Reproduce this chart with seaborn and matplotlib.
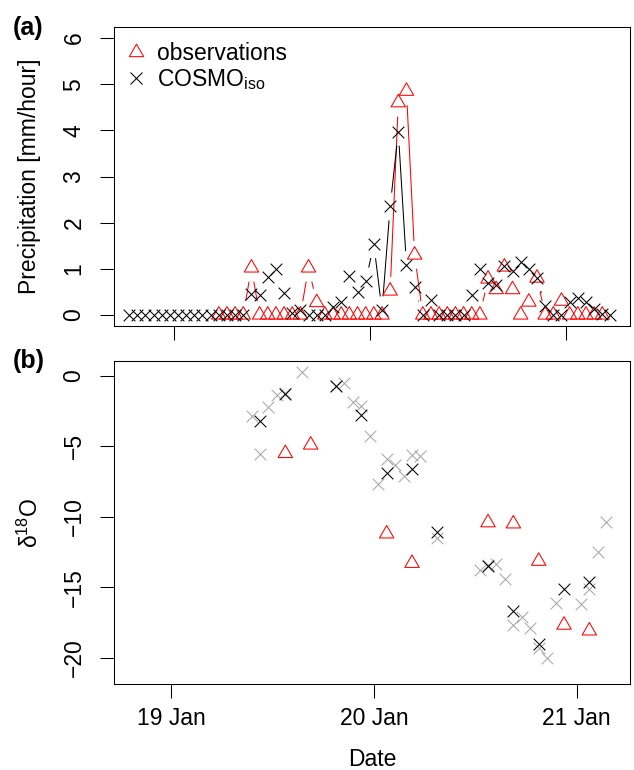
import numpy as np
import matplotlib
matplotlib.use("Agg")
import matplotlib.pyplot as plt
from matplotlib.lines import Line2D
from matplotlib.path import Path
from matplotlib.collections import LineCollection
import seaborn as sns

sns.set_theme(style="white")
plt.rcParams["font.family"] = ["Liberation Sans", "DejaVu Sans"]
plt.rcParams["mathtext.fontset"] = "custom"
plt.rcParams["mathtext.rm"] = "Liberation Sans"
plt.rcParams["mathtext.default"] = "regular"
plt.rcParams["text.color"] = "black"

nan = np.nan

# Hourly time axis: 18 Jan 18:30 onwards, as fractional day of January
hour = np.arange(60)
time_day = 18 + (18.5 + hour) / 24

# Precipitation [mm/hour]
obs_precip = [nan] * 11 + [
    0, 0, 0, 0, 1.02, 0, 0, 0, 0, 0, 0, 1.02, 0.27,
    0, 0, 0, 0, 0, 0, 0, 0, 0.52, 4.60, 4.85, 1.30,
    0, 0, 0, 0, 0, 0, 0, 0, 0.78, 0.55, 1.04, 0.55,
    0, 0.28, 0.80, 0, 0, 0.30, 0, 0, 0, 0, 0,
] + [nan]
cosmo_precip = [
    0, 0, 0, 0, 0, 0, 0, 0, 0, 0, 0, 0, 0, 0, 0,
    0.45, 0.43, 0.83, 1.00, 0.48, 0.04, 0.10, 0.00, 0.00, 0.00,
    0.18, 0.27, 0.85, 0.50, 0.73, 1.53, 0.10, 2.35, 3.97, 1.08,
    0.60, 0.00, 0.33, 0.00, 0.00, 0.00, 0.00, 0.43, 0.99, 0.70,
    0.65, 1.06, 0.95, 1.14, 1.00, 0.81, 0.19, 0.00, 0.00, 0.27,
    0.37, 0.27, 0.13, 0.02, 0.00,
]

# delta 18O: hourly model values (grey), model at sampling times (black), observations (red)
iso_hourly_hour = [15, 16, 17, 18, 19, 21, 25, 26, 27, 28, 29, 30, 31, 32, 33, 34,
                   35, 37, 42, 43, 44, 45, 46, 47, 48, 49, 50, 51, 54, 55, 56, 57]
iso_hourly = [-2.85, -5.55, -2.18, -1.35, -1.25, 0.24, -0.75, -0.52, -1.83, -2.14,
              -4.27, -7.69, -5.91, -6.34, -7.12, -5.62, -5.69, -11.48, -13.80, -13.40,
              -13.33, -14.40, -17.65, -17.13, -17.90, -19.27, -19.98, -16.10, -16.18,
              -15.10, -12.50, -10.37]
iso_model_hour = [16, 19, 25, 28, 31, 34, 37, 43, 46, 49, 52, 55]
iso_model = [-3.20, -1.30, -0.71, -2.78, -6.86, -6.64, -11.08, -13.45, -16.65,
             -18.98, -15.14, -14.64]
iso_obs_hour = [19, 22, 31, 34, 43, 46, 49, 52, 55]
iso_obs = [-5.50, -4.90, -11.20, -13.29, -10.41, -10.49, -13.14, -17.67, -18.08]

day_ticks = [19, 20, 21]
day_labels = ["19 Jan", "20 Jan", "21 Jan"]

FS = 16.5
W, H = 634, 770
fig = plt.figure(figsize=(W / 100, H / 100), dpi=100)


def axes_px(left, top, right, bottom):
    return fig.add_axes([left / W, 1 - bottom / H, (right - left) / W, (bottom - top) / H])


ax_a = axes_px(114, 27, 630, 326)
ax_b = axes_px(114, 361, 630, 684)

TRI = Path([(0, 1), (-0.866, -0.5), (0.866, -0.5), (0, 1)],
           [Path.MOVETO, Path.LINETO, Path.LINETO, Path.CLOSEPOLY])
TRI_MS = 12.0
X_MS = 8.4
LW = 0.75


def hours_to_day(h):
    return 18 + (18.5 + np.asarray(h, dtype=float)) / 24


def style_axes(ax, xlim, ylim, yticks, show_xlabels):
    ax.set_xlim(*xlim)
    ax.set_ylim(*ylim)
    ax.set_xticks(day_ticks)
    ax.set_xticklabels(day_labels if show_xlabels else [])
    ax.set_yticks(yticks)
    ax.set_yticklabels([str(v).replace("-", "\u2212") for v in yticks])
    for sp in ax.spines.values():
        sp.set_color("black")
        sp.set_linewidth(LW)
        sp.set_visible(True)
    ax.tick_params(axis="both", direction="out", length=10, width=LW, color="black",
                   labelsize=FS, labelcolor="black", bottom=True, left=True)
    ax.tick_params(axis="x", pad=6.5)
    ax.tick_params(axis="y", pad=10.5)
    for lbl in ax.get_yticklabels():
        lbl.set_rotation(90)
        lbl.set_va("center")
        lbl.set_ha("right")
    ax.set_xlabel("")
    ax.set_ylabel("")
    ax.grid(False)


def gapped_lines(ax, x, y, color, gap_px=14):
    """Connect consecutive points, leaving a gap around each point."""
    pts = ax.transData.transform(np.column_stack([np.asarray(x, float), np.asarray(y, float)]))
    segs = []
    for p, q in zip(pts[:-1], pts[1:]):
        if not (np.all(np.isfinite(p)) and np.all(np.isfinite(q))):
            continue
        d = np.hypot(*(q - p))
        if d == 0:
            continue
        f = gap_px / d
        if f < 0.5:
            segs.append(np.array([p + f * (q - p), q - f * (q - p)]))
    inv = ax.transData.inverted()
    segs = [inv.transform(s) for s in segs]
    ax.add_collection(LineCollection(segs, colors=color, linewidths=LW, zorder=2))


# ---- (a) precipitation ----
style_axes(ax_a, (18.694, 21.329), (-0.24, 6.24), [0, 1, 2, 3, 4, 5, 6], False)
gapped_lines(ax_a, time_day, obs_precip, "red")
sns.scatterplot(x=time_day, y=obs_precip, ax=ax_a, marker=TRI, s=TRI_MS ** 2,
                facecolor="none", edgecolor="red", linewidth=LW, legend=False, zorder=3)
gapped_lines(ax_a, time_day, cosmo_precip, "black")
sns.scatterplot(x=time_day, y=cosmo_precip, ax=ax_a, marker="x", s=X_MS ** 2,
                color="black", linewidth=LW, legend=False, zorder=4)

handles = [
    Line2D([], [], ls="none", marker=TRI, ms=TRI_MS, mfc="none", mec="red", mew=LW),
    Line2D([], [], ls="none", marker="x", ms=X_MS, color="black", mew=LW),
]
ax_a.legend(handles, ["observations", r"COSMO$_{iso}$"], loc="upper left",
            bbox_to_anchor=(10.5 / 516, 1 - 15 / 299), frameon=False, fontsize=FS,
            handlelength=1.0, handletextpad=0.42, borderpad=0, borderaxespad=0,
            labelspacing=0.1, labelcolor="black")

# ---- (b) delta 18O ----
style_axes(ax_b, (18.717, 21.263), (-21.85, 1.05), [0, -5, -10, -15, -20], True)
sns.scatterplot(x=hours_to_day(iso_hourly_hour), y=iso_hourly, ax=ax_b, marker="x",
                s=X_MS ** 2, color="#A8A8A8", linewidth=LW, legend=False, zorder=3)
sns.scatterplot(x=hours_to_day(iso_model_hour), y=iso_model, ax=ax_b, marker="x",
                s=X_MS ** 2, color="black", linewidth=LW, legend=False, zorder=4)
sns.scatterplot(x=hours_to_day(iso_obs_hour), y=iso_obs, ax=ax_b, marker=TRI,
                s=TRI_MS ** 2, facecolor="none", edgecolor="red", linewidth=LW,
                legend=False, zorder=5)
ax_b.set_xlabel("")
ax_b.set_ylabel("")

# ---- labels ----
fig.text(30 / W, 1 - 176.5 / H, "Precipitation [mm/hour]", rotation=90,
         ha="center", va="center", fontsize=FS, color="black")
fig.text(30 / W, 1 - 522.5 / H, "\u03b4$^{18}$O", rotation=90,
         ha="center", va="center", fontsize=FS, color="black")
fig.text(372 / W, 1 - 760 / H, "Date", ha="center", va="center", fontsize=FS,
         color="black")
fig.text(28.5 / W, 1 - 28 / H, "(a)", ha="center", va="center", fontsize=18,
         fontweight="bold", color="black")
fig.text(28.5 / W, 1 - 361 / H, "(b)", ha="center", va="center", fontsize=18,
         fontweight="bold", color="black")

fig.savefig("out.png", dpi=100, facecolor="white")
